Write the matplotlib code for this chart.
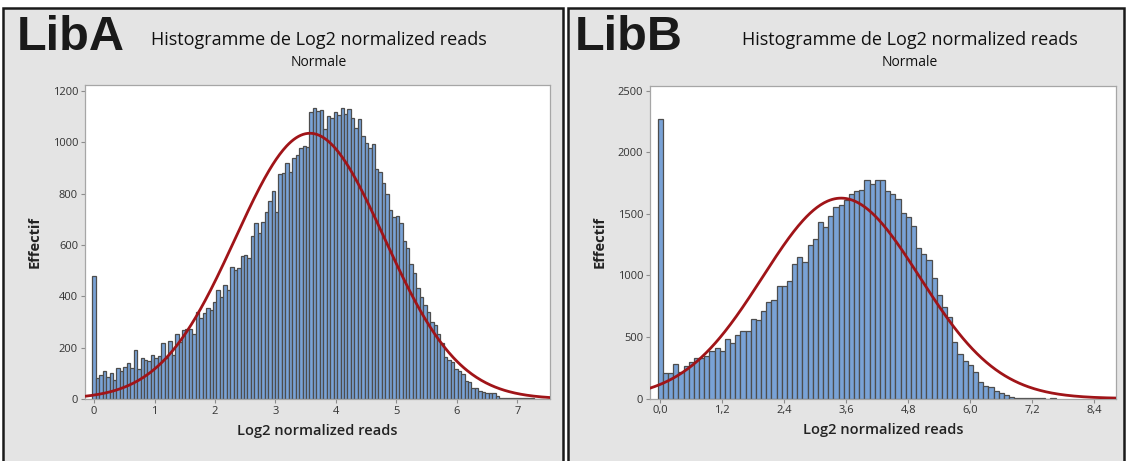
import numpy as np
import matplotlib
matplotlib.use("Agg")
import matplotlib.pyplot as plt
from matplotlib.patches import Rectangle

plt.rcParams['font.family'] = ['Open Sans', 'DejaVu Sans']

# ---- LibA : bin counts (bin width ~0.057, first bin centred on 0)
libA_width = 0.057
libA_counts = [480, 80, 93, 111, 87, 103, 74, 119, 110, 126, 139, 119, 190, 117, 160, 150, 147,
               172, 160, 166, 218, 160, 227, 172, 253, 222, 269, 271, 271, 253, 340, 314, 334,
               356, 347, 379, 425, 399, 444, 425, 515, 503, 509, 558, 560, 550, 636, 687, 645,
               691, 727, 771, 812, 730, 875, 880, 918, 886, 938, 951, 979, 987, 983, 1119, 1135,
               1120, 1125, 1052, 1104, 1093, 1117, 1106, 1135, 1109, 1130, 1096, 1055, 1091, 1026,
               996, 977, 992, 896, 886, 840, 797, 736, 710, 714, 684, 616, 587, 525, 490, 434,
               399, 366, 338, 301, 288, 252, 217, 165, 152, 146, 117, 109, 96, 70, 65, 44, 42,
               31, 26, 22, 22, 22, 13, 5, 4, 4, 3, 3, 4, 5, 3, 2, 2, 1, 1, 1]
libA_mean, libA_sd, libA_peak = 3.57, 1.23, 1035
libA_xticks = [0, 1, 2, 3, 4, 5, 6, 7]
libA_xlabels = ['0', '1', '2', '3', '4', '5', '6', '7']
libA_yticks = [0, 200, 400, 600, 800, 1000, 1200]

# ---- LibB : bin counts (bin width 0.1)
libB_width = 0.1
libB_counts = [2270, 205, 205, 283, 213, 264, 294, 332, 332, 348, 389, 408, 389, 487, 449, 516,
               551, 551, 648, 640, 708, 783, 803, 917, 918, 957, 1092, 1149, 1110, 1245, 1294,
               1430, 1390, 1486, 1554, 1573, 1615, 1663, 1682, 1690, 1776, 1741, 1776, 1776, 1682,
               1660, 1622, 1511, 1478, 1404, 1221, 1178, 1123, 980, 841, 746, 660, 462, 362, 305,
               272, 218, 137, 102, 91, 63, 42, 28, 15, 7, 5, 3, 2, 1, 1, 0, 1]
libB_mean, libB_sd, libB_peak = 3.5, 1.52, 1628
libB_xticks = [0, 1.2, 2.4, 3.6, 4.8, 6.0, 7.2, 8.4]
libB_xlabels = ['0,0', '1,2', '2,4', '3,6', '4,8', '6,0', '7,2', '8,4']
libB_yticks = [0, 500, 1000, 1500, 2000, 2500]

W, H = 1127, 461
BAR = '#79a2d6'
EDGE = '#4d4d4d'
CURVE = '#a01418'
PANEL = '#e4e4e4'


def px(x0, y0, x1, y1):
    # pixel box (top-left origin) -> figure fraction [l, b, w, h]
    return [x0 / W, (H - y1) / H, (x1 - x0) / W, (y1 - y0) / H]


def drawPanel(fig, x0, x1):
    fig.patches.append(Rectangle((x0 / W, -0.01), (x1 - x0) / W, (H - 8) / H + 0.01,
                                 transform=fig.transFigure, facecolor=PANEL,
                                 edgecolor='#1a1a1a', linewidth=1.8, zorder=-5))


def drawHist(ax, counts, width, mean, sd, peak, xlim, ylim, xticks, xlabels, yticks):
    centers = np.arange(len(counts)) * width
    ax.bar(centers, counts, width=width, color=BAR, edgecolor=EDGE, linewidth=0.9, zorder=2)
    xs = np.linspace(xlim[0], xlim[1], 400)
    ax.plot(xs, peak * np.exp(-0.5 * ((xs - mean) / sd) ** 2), color=CURVE, linewidth=2, zorder=3)
    ax.set_xlim(xlim)
    ax.set_ylim(ylim)
    ax.set_xticks(xticks)
    ax.set_xticklabels(xlabels)
    ax.set_yticks(yticks)
    ax.tick_params(direction='out', length=3, width=0.8, color='#8c8c8c',
                   labelsize=8, labelcolor='#333333', pad=2)
    for s in ax.spines.values():
        s.set_color('#a6a6a6')
        s.set_linewidth(0.9)
    ax.set_xlabel('Log2 normalized reads', fontsize=10.5, fontweight='semibold',
                  color='#222222', labelpad=5)
    ax.set_ylabel('Effectif', fontsize=10.5, fontweight='bold', color='#222222', labelpad=8)


fig = plt.figure(figsize=(W / 100, H / 100), dpi=100)
fig.patch.set_facecolor('white')

drawPanel(fig, 3, 563)
drawPanel(fig, 568, 1124)

axA = fig.add_axes(px(85, 85, 550, 399))
axA.set_zorder(2)
drawHist(axA, libA_counts, libA_width, libA_mean, libA_sd, libA_peak,
         (-0.15, 7.54), (0, 1223), libA_xticks, libA_xlabels, libA_yticks)

axB = fig.add_axes(px(650, 86.5, 1116, 398.5))
axB.set_zorder(2)
drawHist(axB, libB_counts, libB_width, libB_mean, libB_sd, libB_peak,
         (-0.2, 8.82), (0, 2535), libB_xticks, libB_xlabels, libB_yticks)

# titles and library tags
for cx, tag, tx in [(319, 'LibA', 17), (910, 'LibB', 575)]:
    fig.text(cx / W, 1 - 40 / H, 'Histogramme de Log2 normalized reads', ha='center', va='center',
             fontsize=13, fontweight='medium', color='#111111')
    fig.text(cx / W, 1 - 63 / H, 'Normale', ha='center', va='center', fontsize=10,
             fontweight='medium', color='#111111')
    fig.text(tx / W, 1 - 38 / H, tag, ha='left', va='center', fontsize=35, fontweight='bold',
             family=['Liberation Sans', 'DejaVu Sans'], color='#1a1a1a')

fig.savefig('out.png', dpi=100)
